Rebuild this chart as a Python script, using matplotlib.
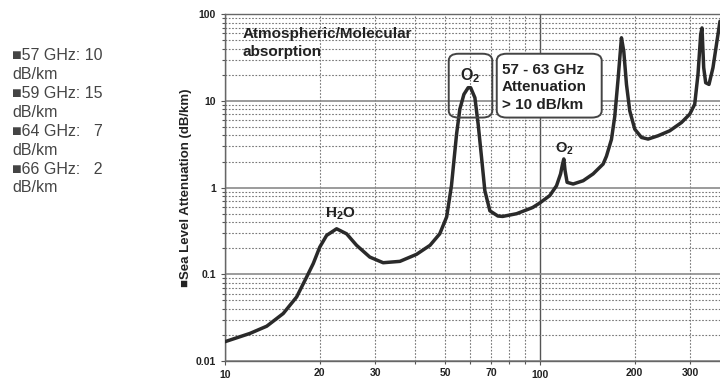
import numpy as np
import matplotlib
matplotlib.use("Agg")
import matplotlib.pyplot as plt
from matplotlib.ticker import LogLocator, FuncFormatter, NullFormatter, FixedLocator
from matplotlib.patches import FancyBboxPatch

plt.rcParams['font.family'] = ['Liberation Sans', 'DejaVu Sans']
plt.rcParams['mathtext.fontset'] = 'custom'
plt.rcParams['mathtext.rm'] = 'Liberation Sans:bold'
plt.rcParams['mathtext.bf'] = 'Liberation Sans:bold'

# frequency (GHz) vs sea level attenuation (dB/km)
freq_ghz = [10.0, 12.0, 13.57, 15.31, 16.89, 18.17, 19.07, 20.0, 21.03, 22.62,
            24.34, 26.18, 28.84, 31.8, 35.94, 40.6, 44.8, 48.1, 50.6, 52.4,
            54.4, 55.7, 57.4, 59.2, 60.3, 62.2, 63.7, 65.3, 66.9, 69.4,
            73.6, 76.2, 84.4, 94.9, 100.0, 107.6, 113.0, 116.4, 118.1, 119.2,
            120.3, 122.1, 127.6, 137.3, 147.7, 158.9, 162.8, 168.9, 173.0, 177.3,
            181.7, 184.8, 188.5, 193.1, 200.3, 210.3, 220.8, 237.4, 258.6, 281.8,
            299.4, 310.5, 318.1, 324.4, 327.5, 331.6, 336.5, 344.7, 354.9, 365.4,
            373.6]
atten_db_km = [0.0167, 0.0208, 0.0252, 0.0353, 0.0548, 0.0931, 0.133, 0.206, 0.281, 0.335,
               0.293, 0.216, 0.158, 0.136, 0.141, 0.170, 0.216, 0.293, 0.46, 1.05,
               4.14, 8.0, 11.9, 14.2, 14.2, 10.9, 5.4, 2.23, 0.92, 0.54,
               0.47, 0.465, 0.50, 0.589, 0.665, 0.81, 1.05, 1.44, 1.87, 2.14,
               1.57, 1.15, 1.10, 1.20, 1.44, 1.87, 2.3, 3.6, 6.6, 18.0,
               53.5, 37.5, 15.5, 7.67, 4.72, 3.79, 3.63, 3.96, 4.52, 5.63,
               7.03, 9.15, 20.4, 58.5, 69.5, 24.2, 16.2, 15.5, 24.2, 49.0,
               83.0]

x_labels = [10, 20, 30, 50, 70, 100, 200, 300]
y_labels = {100: '100', 10: '10', 1: '1', 0.1: '0.1', 0.01: '0.01'}

notes = ["\u25a057 GHz: 10", "dB/km", "\u25a059 GHz: 15", "dB/km",
         "\u25a064 GHz:   7", "dB/km", "\u25a066 GHz:   2", "dB/km"]

fig = plt.figure(figsize=(7.2, 3.79), dpi=100)
ax = fig.add_axes([0.3125, 0.0475, 0.6875, 0.915])

ax.plot(freq_ghz, atten_db_km, color='#2a2a2a', lw=2.5, solid_joinstyle='round',
        solid_capstyle='round', zorder=5)
ax.set_xscale('log')
ax.set_yscale('log')
ax.set_xlim(10, 373.6)
ax.set_ylim(0.01, 100)

# grid
ax.xaxis.set_major_locator(FixedLocator([10, 100]))
ax.xaxis.set_minor_locator(LogLocator(base=10, subs=np.arange(2, 10), numticks=20))
ax.yaxis.set_major_locator(FixedLocator([0.01, 0.1, 1, 10, 100]))
ax.yaxis.set_minor_locator(LogLocator(base=10, subs=np.arange(2, 10), numticks=20))
ax.grid(which='major', axis='y', color='#8a8a8a', lw=1.2, ls='-')
ax.grid(which='major', axis='x', color='#555555', lw=1.0, ls='-')
ax.grid(which='minor', color='#777777', lw=0.8, ls=(0, (1.5, 1.5)))


def fmt_x(v, pos):
    for lab in x_labels:
        if abs(v - lab) / lab < 1e-6:
            return str(lab)
    return ''


ax.xaxis.set_major_formatter(FuncFormatter(fmt_x))
ax.xaxis.set_minor_formatter(FuncFormatter(fmt_x))
ax.yaxis.set_major_formatter(FuncFormatter(lambda v, p: y_labels.get(round(v, 3), '')))
ax.yaxis.set_minor_formatter(NullFormatter())
ax.tick_params(which='both', labelsize=7.5, length=3, color='#555555', width=0.8)
ax.tick_params(which='minor', length=2)
for lab in ax.get_xticklabels(which='both') + ax.get_yticklabels():
    lab.set_fontweight('bold')
    lab.set_color('#222222')

for s in ['left', 'bottom', 'top']:
    ax.spines[s].set_color('#666666')
    ax.spines[s].set_linewidth(1.0)
ax.spines['right'].set_visible(False)

ax.set_ylabel("\u25a0Sea Level Attenuation (dB/km)", fontsize=9.5, fontweight='bold',
              color='#222222', labelpad=3)

# annotations
ax.text(0.036, 0.962, "Atmospheric/Molecular\nabsorption", transform=ax.transAxes,
        fontsize=11, fontweight='bold', color='#222222', va='top', ha='left',
        linespacing=1.36)

ax.add_patch(FancyBboxPatch((0.452, 0.702), 0.088, 0.184, transform=ax.transAxes,
                            boxstyle='round,pad=0,rounding_size=0.02',
                            fill=False, ec='#444444', lw=1.4, zorder=6))
ax.add_patch(FancyBboxPatch((0.549, 0.702), 0.212, 0.184, transform=ax.transAxes,
                            boxstyle='round,pad=0,rounding_size=0.02',
                            fc='white', ec='#444444', lw=1.4, zorder=6))
ax.text(0.5596, 0.789, "57 - 63 GHz\nAttenuation\n> 10 dB/km", transform=ax.transAxes,
        fontsize=11, fontweight='bold', color='#222222', va='center', ha='left',
        linespacing=1.32, zorder=7)

ax.text(60, 19.5, r"$\mathbf{O_2}$", fontsize=11.5, color='#222222', ha='center',
        va='center', zorder=7)
ax.text(120, 2.8, r"$\mathbf{O_2}$", fontsize=10.5, color='#222222', ha='center',
        va='center', zorder=7)
ax.text(23.3, 0.5, r"$\mathbf{H_2O}$", fontsize=11, color='#222222', ha='center',
        va='center', zorder=7)

fig.text(0.0167, 0.874, "\n".join(notes), fontsize=11.5, color='#444444',
         va='top', ha='left', linespacing=1.33)

fig.savefig("out.png", dpi=100)
